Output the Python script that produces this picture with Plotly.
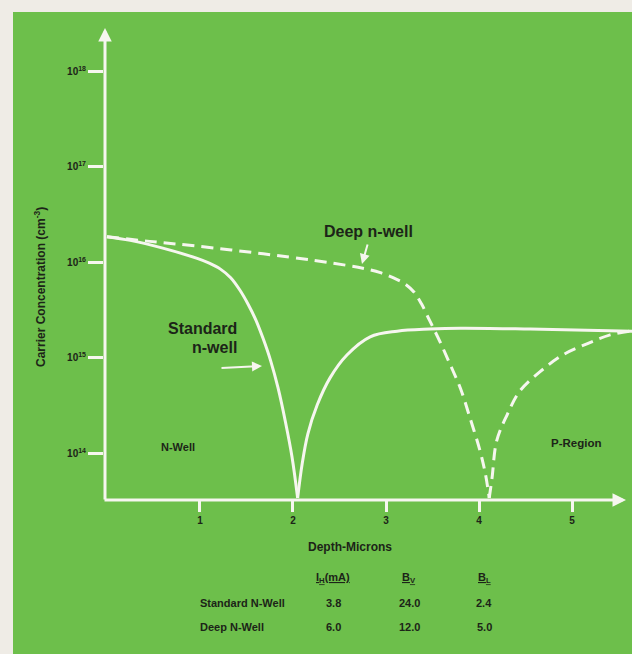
import plotly.graph_objects as go

# ---- data -------------------------------------------------------------
# Standard n-well profile (n side, then p side past the junction)
std_n_depth = [0.0, 0.25, 0.60, 0.97, 1.10, 1.22, 1.33, 1.43, 1.52, 1.60, 1.68,
               1.76, 1.84, 1.92, 1.99, 2.05]
std_n_conc = [1.86e16, 1.70e16, 1.41e16, 1.10e16, 9.8e15, 8.5e15, 6.9e15, 5.1e15,
              3.6e15, 2.5e15, 1.58e15, 9.3e14, 4.8e14, 2.1e14, 9.1e13, 3.4e13]
std_p_depth = [2.05, 2.10, 2.16, 2.26, 2.40, 2.58, 2.83, 3.12, 3.47, 3.80, 4.55, 5.65]
std_p_conc = [3.4e13, 7.9e13, 1.6e14, 3.2e14, 6.2e14, 1.07e15, 1.66e15, 1.9e15,
              2.0e15, 2.04e15, 2.0e15, 1.9e15]

# Deep n-well profile
deep_n_depth = [0.0, 0.46, 0.97, 1.68, 2.22, 2.58, 2.75, 2.94, 3.12, 3.21, 3.30,
                3.38, 3.47, 3.58, 3.69, 3.80, 3.90, 4.01, 4.07, 4.11]
deep_n_conc = [1.86e16, 1.66e16, 1.48e16, 1.23e16, 1.05e16, 9.3e15, 8.7e15, 7.8e15,
               6.6e15, 5.9e15, 4.9e15, 3.7e15, 2.45e15, 1.48e15, 8.5e14, 4.8e14,
               2.4e14, 1.07e14, 6.0e13, 3.4e13]
deep_p_depth = [4.11, 4.14, 4.19, 4.30, 4.44, 4.66, 4.90, 5.16, 5.41, 5.62]
deep_p_conc = [3.4e13, 5.5e13, 1.35e14, 2.5e14, 4.5e14, 7.2e14, 1.07e15, 1.4e15,
               1.74e15, 1.9e15]

x_ticks = [1, 2, 3, 4, 5]
y_ticks = [1e14, 1e15, 1e16, 1e17, 1e18]
y_tick_text = ["10<sup>14</sup>", "10<sup>15</sup>", "10<sup>16</sup>",
               "10<sup>17</sup>", "10<sup>18</sup>"]

table_headers = ["<u>I<sub>H</sub>(mA)</u>", "<u>B<sub>V</sub></u>", "<u>B<sub>L</sub></u>"]
table_rows = ["Standard N-Well", "Deep N-Well"]
holding_current = [3.8, 6.0]
beta_vertical = [24.0, 12.0]
beta_lateral = [2.4, 5.0]

# ---- styling ----------------------------------------------------------
GREEN = "#6dbf4b"
EDGE = "#efece6"
LINE = "#f6f6ef"
INK = "#1c2418"
FONT = "Liberation Sans, Arial, sans-serif"

W, H = 632, 654
L, R, T, B = 104, 0, 20, 154
PW, PH = W - L - R, H - T - B


def px(xp):
    return (xp - L) / PW


def py(yp):
    return (T + PH - yp) / PH


fig = go.Figure()

line_solid = dict(color=LINE, width=3, shape="spline", smoothing=1.0)
line_dash = dict(color=LINE, width=3, dash="12px,7px", shape="spline", smoothing=1.0)

fig.add_trace(go.Scatter(x=std_n_depth, y=std_n_conc, mode="lines", line=line_solid))
fig.add_trace(go.Scatter(x=std_p_depth, y=std_p_conc, mode="lines", line=line_solid))
fig.add_trace(go.Scatter(x=deep_n_depth, y=deep_n_conc, mode="lines", line=line_dash))
fig.add_trace(go.Scatter(x=deep_p_depth, y=deep_p_conc, mode="lines", line=line_dash))

ann = []


def label(xp, yp, text, size, bold=True, **kw):
    t = "<b>" + text + "</b>" if bold else text
    d = dict(xref="paper", yref="paper", x=px(xp), y=py(yp), text=t, showarrow=False,
             xanchor="center", yanchor="middle",
             font=dict(size=size, color=INK, family=FONT))
    d.update(kw)
    ann.append(d)


def pointer(xp, yp, ax, ay, width=2, size=1.0):
    ann.append(dict(xref="paper", yref="paper", x=px(xp), y=py(yp), ax=ax, ay=ay,
                    showarrow=True, arrowhead=2, arrowsize=size, arrowwidth=width,
                    arrowcolor=LINE, text=""))


# axis arrows
pointer(105, 28, 0, 473, width=3, size=0.9)
pointer(626, 500, -523, 0, width=3, size=0.9)

# curve labels and pointers
label(368, 231, "Deep n-well", 16)
pointer(362, 264, 6, -21)
label(239, 328, "Standard", 16, xanchor="right")
label(239, 347, "n-well", 16, xanchor="right")
pointer(262, 366, -42, 2)

# region labels
label(178, 447, "N-Well", 11)
label(576, 443, "P-Region", 11.5)

# axis titles
label(350, 547, "Depth-Microns", 12)
label(40, 287, "Carrier Concentration (cm<sup>-3</sup>)", 12, textangle=-90)

# parameter table
col_x = [333, 409, 484]
for cx, head in zip(col_x, table_headers):
    label(cx, 578, head, 11)
row_y = [603, 627]
for ry, name, ih, bv, bl in zip(row_y, table_rows, holding_current, beta_vertical, beta_lateral):
    label(198, ry, name, 11, xanchor="left")
    for cx, v in zip(col_x, [ih, bv, bl]):
        label(cx, ry, f"{v:.1f}", 11)

fig.update_layout(
    width=W, height=H,
    margin=dict(l=L, r=R, t=T, b=B, pad=0),
    paper_bgcolor=EDGE,
    plot_bgcolor="rgba(0,0,0,0)",
    showlegend=False,
    annotations=ann,
    shapes=[dict(type="rect", xref="paper", yref="paper",
                 x0=px(13), x1=px(W + 2), y0=py(H + 2), y1=py(12),
                 fillcolor=GREEN, line=dict(width=0), layer="below")],
    xaxis=dict(range=[-0.032, 5.645], showgrid=False, zeroline=False, showline=False,
               ticks="outside", tickvals=x_ticks, ticklen=11, tickwidth=3,
               tickcolor=LINE, tickfont=dict(size=10, color=INK, family=FONT, weight="bold")),
    yaxis=dict(type="log", range=[13.51, 18.54], showgrid=False, zeroline=False,
               showline=False, ticks="outside", tickvals=y_ticks, ticktext=y_tick_text,
               ticklen=15, tickwidth=3, tickcolor=LINE,
               tickfont=dict(size=10, color=INK, family=FONT, weight="bold")),
)

fig.write_html("out.html")
